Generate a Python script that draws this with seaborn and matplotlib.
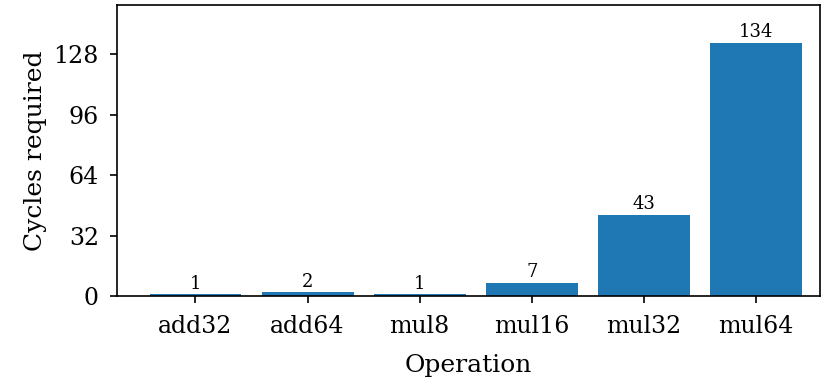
import matplotlib
matplotlib.use("Agg")
import matplotlib.pyplot as plt
import seaborn as sns
import pandas as pd

operations = ["add32", "add64", "mul8", "mul16", "mul32", "mul64"]
cycles = [1, 2, 1, 7, 43, 134]
yticks = [0, 32, 64, 96, 128]

sns.set_theme(style="ticks", rc={
    "text.color": "black", "axes.labelcolor": "black",
    "xtick.color": "black", "ytick.color": "black",
    "axes.edgecolor": "black",
})
plt.rcParams["font.family"] = ["DejaVu Serif"]

df = pd.DataFrame({"Operation": operations, "Cycles required": cycles})

fig = plt.figure(figsize=(8.23, 3.85), dpi=100)
ax = fig.add_axes([117 / 823, 1 - 296 / 385, (820 - 117) / 823, (296 - 5) / 385])
sns.barplot(data=df, x="Operation", y="Cycles required", color="#1f77b4",
            saturation=1, width=0.82, linewidth=0, ax=ax)
for c in ax.containers:
    ax.bar_label(c, labels=[str(v) for v in cycles], padding=1, fontsize=13)
ax.set_ylim(0, 154)
ax.set_xlim(-0.7, 5.57)
ax.set_yticks(yticks)
ax.tick_params(labelsize=17, length=5, width=1.2)
ax.tick_params(axis="x", pad=9)
ax.tick_params(axis="y", pad=8)
ax.set_xlabel("Operation", fontsize=18, labelpad=11)
ax.set_ylabel("Cycles required", fontsize=18, labelpad=5)
for s in ax.spines.values():
    s.set_visible(True)
    s.set_linewidth(1.2)
fig.savefig("out.png", dpi=100)
